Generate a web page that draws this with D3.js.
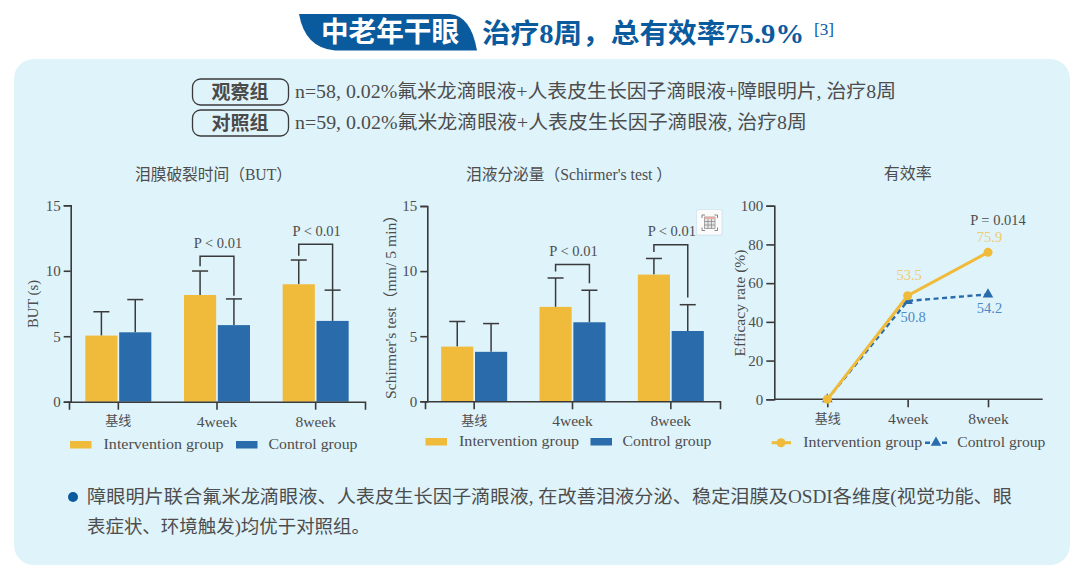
<!DOCTYPE html>
<html>
<head>
<meta charset="utf-8">
<script src="https://cdn.jsdelivr.net/npm/d3@7"></script>
<style>
html, body { margin: 0; padding: 0; background: #fff; }
svg { display: block; }
text { font-family: "Liberation Serif", "Noto Sans CJK SC", serif; fill: #4d4d4d; }
</style>
</head>
<body>
<svg id="chart" width="1080" height="576"></svg>
<script>
const categories = ['基线', '4week', '8week'];
const seriesNames = ['Intervention group', 'Control group'];

const butIntervention = [5.05, 8.15, 8.97];
const butControl = [5.3, 5.85, 6.17];
const butInterventionTop = [6.87, 9.98, 10.82];
const butControlTop = [7.8, 7.85, 8.52];
const butBracketTop = [null, 11.1, 12.03];
const butBracketLeft = [null, 10.35, 11.15];
const butBracketRight = [null, 8.1, 8.5];
const butPLabels = [null, 'P < 0.01', 'P < 0.01'];

const tearIntervention = [4.2, 7.25, 9.73];
const tearControl = [3.8, 6.07, 5.4];
const tearInterventionTop = [6.13, 9.47, 10.97];
const tearControlTop = [5.97, 8.53, 7.42];
const tearBracketTop = [null, 10.5, 12.03];
const tearBracketLeft = [null, 9.97, 11.47];
const tearBracketRight = [null, 9.07, 7.97];
const tearPLabels = [null, 'P < 0.01', 'P < 0.01'];

const rateIntervention = [0, 53.5, 75.9];
const rateControl = [0, 50.8, 54.2];
const rateTicks = [0, 20, 40, 60, 80, 100];
const barTicks = [0, 5, 10, 15];

const YELLOW = '#f0bb3a', BLUE = '#2a6cab', AXIS = '#3a3a3a', NAVY = '#0a5a9e';

const svg = d3.select('#chart');

// the fonts here are narrower than the source ones, so stretch text to the measured width
function fit(sel, len) {
    return sel.attr('textLength', len).attr('lengthAdjust', 'spacingAndGlyphs');
}

// rounded background panel
svg.append('rect').attr('x', 14).attr('y', 59).attr('width', 1056).attr('height', 506)
    .attr('rx', 20).attr('fill', '#dff3fb');

// heading tab: square top left / bottom right, rounded on the other two
svg.append('path')
    .attr('d', 'M299,14 H450 Q471,16 477,50.5 H335 Q305,48 299,14 Z')
    .attr('fill', NAVY);
fit(svg.append('text').attr('x', 321).attr('y', 42)
    .attr('font-size', 28).attr('font-weight', 700).style('fill', '#fff')
    .text('中老年干眼'), 138);
fit(svg.append('text').attr('x', 482).attr('y', 43)
    .attr('font-size', 27).attr('font-weight', 700).style('fill', NAVY)
    .text('治疗8周，总有效率75.9%'), 322);
fit(svg.append('text').attr('x', 814).attr('y', 35)
    .attr('font-size', 17).attr('font-weight', 400).style('fill', NAVY)
    .text('[3]'), 20);

// group descriptions
const groupRows = [
    {badge: '观察组', text: 'n=58, 0.02%氟米龙滴眼液+人表皮生长因子滴眼液+障眼明片, 治疗8周', width: 601, y: 79},
    {badge: '对照组', text: 'n=59, 0.02%氟米龙滴眼液+人表皮生长因子滴眼液, 治疗8周', width: 512, y: 110}
];
for (let row of groupRows) {
    svg.append('rect').attr('x', 192.5).attr('y', row.y).attr('width', 96).attr('height', 26)
        .attr('rx', 8).attr('fill', 'none').attr('stroke', '#3a3a3a').attr('stroke-width', 1.3);
    svg.append('text').attr('x', 240).attr('y', row.y + 20).attr('text-anchor', 'middle')
        .attr('font-size', 19).attr('font-weight', 700).style('fill', '#4a4a4a').text(row.badge);
    fit(svg.append('text').attr('x', 295).attr('y', row.y + 19)
        .attr('font-size', 19).text(row.text), row.width);
}

function yAxisLabel(x, y, text, len) {
    fit(svg.append('text').attr('transform', `translate(${x},${y}) rotate(-90)`)
        .attr('text-anchor', 'middle').attr('font-size', 15).text(text), len);
}

function styleAxis(g, size) {
    g.selectAll('path, line').attr('stroke', AXIS).attr('stroke-width', 1.6);
    g.selectAll('text').attr('font-size', size).style('fill', '#4d4d4d');
}

// category labels: the Chinese one is set smaller than the Latin ones
function styleCategories(g) {
    g.selectAll('text').attr('font-size', d => d === categories[0] ? 13 : 15.5);
}

function drawBarChart(c) {
    const x = d3.scaleBand().domain(categories).range(c.xRange);
    const inner = d3.scaleBand().domain(seriesNames).range([-33, 33]).paddingInner(0.05);
    const y = d3.scaleLinear().domain([0, 15]).range(c.yRange);
    const cx = d => x(d) + x.bandwidth() / 2;
    const rows = [
        {name: seriesNames[0], vals: c.intervention, tops: c.interventionTop, color: YELLOW},
        {name: seriesNames[1], vals: c.control, tops: c.controlTop, color: BLUE}
    ];

    for (let r of rows) {
        const mid = inner(r.name) + inner.bandwidth() / 2;
        // error bars first, bars sit over their lower end
        svg.append('g').selectAll('line').data(categories).enter().append('line')
            .attr('x1', d => cx(d) + mid).attr('x2', d => cx(d) + mid)
            .attr('y1', (d, i) => y(r.vals[i])).attr('y2', (d, i) => y(r.tops[i]))
            .attr('stroke', AXIS).attr('stroke-width', 1.5);
        svg.append('g').selectAll('line').data(categories).enter().append('line')
            .attr('x1', d => cx(d) + mid - 8).attr('x2', d => cx(d) + mid + 8)
            .attr('y1', (d, i) => y(r.tops[i])).attr('y2', (d, i) => y(r.tops[i]))
            .attr('stroke', AXIS).attr('stroke-width', 1.5);
        svg.append('g').selectAll('rect').data(categories).enter().append('rect')
            .attr('x', d => cx(d) + inner(r.name))
            .attr('width', inner.bandwidth())
            .attr('y', (d, i) => y(r.vals[i]))
            .attr('height', (d, i) => y(0) - y(r.vals[i]))
            .attr('fill', r.color);
    }

    // significance brackets
    categories.forEach((d, i) => {
        if (c.bracketTop[i] === null) return;
        const xl = cx(d) + inner(seriesNames[0]) + inner.bandwidth() / 2;
        const xr = cx(d) + inner(seriesNames[1]) + inner.bandwidth() / 2;
        svg.append('path')
            .attr('d', `M${xl},${y(c.bracketLeft[i])} V${y(c.bracketTop[i])} H${xr} V${y(c.bracketRight[i])}`)
            .attr('fill', 'none').attr('stroke', AXIS).attr('stroke-width', 1.5);
        svg.append('text').attr('x', (xl + xr) / 2 + 1).attr('y', y(c.bracketTop[i]) - 8.5)
            .attr('text-anchor', 'middle').attr('font-size', 14.5).text(c.pLabels[i]);
    });

    const gy = svg.append('g').attr('transform', `translate(${c.axisX},0)`)
        .call(d3.axisLeft(y).tickValues(barTicks).tickSize(7).tickPadding(3));
    styleAxis(gy, 15);
    const gx = svg.append('g').attr('transform', `translate(0,${c.yRange[0]})`)
        .call(d3.axisBottom(x).tickSizeOuter(0).tickSize(8).tickPadding(6));
    styleAxis(gx, 15.5);
    styleCategories(gx);

    fit(svg.append('text').attr('x', c.titleX).attr('y', 180)
        .attr('font-size', 16).text(c.title), c.titleLen);
    yAxisLabel(c.labelX, c.labelY, c.yLabel, c.labelLen);

    // legend
    rows.forEach((r, i) => {
        svg.append('rect').attr('x', c.legendX[i]).attr('y', c.legendY - 7)
            .attr('width', 21.5).attr('height', 7.5).attr('fill', r.color);
        fit(svg.append('text').attr('x', c.legendTextX[i]).attr('y', c.legendY + 0.5)
            .attr('font-size', 15).text(r.name), c.legendLen[i]);
    });
}

drawBarChart({
    title: '泪膜破裂时间（BUT）', titleX: 135, titleLen: 157,
    yLabel: 'BUT (s)', labelX: 38, labelY: 304, labelLen: 48,
    xRange: [69, 365], yRange: [401.7, 205.3], axisX: 70.7,
    intervention: butIntervention, control: butControl,
    interventionTop: butInterventionTop, controlTop: butControlTop,
    bracketTop: butBracketTop, bracketLeft: butBracketLeft, bracketRight: butBracketRight,
    pLabels: butPLabels,
    legendX: [70, 236], legendTextX: [103.5, 268.5], legendY: 448, legendLen: [120, 89]
});

drawBarChart({
    title: '泪液分泌量（Schirmer\'s test ）', titleX: 466, titleLen: 206,
    yLabel: 'Schirmer\'s test（mm/ 5 min）', labelX: 396, labelY: 303, labelLen: 192,
    xRange: [425, 720], yRange: [401.3, 206], axisX: 427.3,
    intervention: tearIntervention, control: tearControl,
    interventionTop: tearInterventionTop, controlTop: tearControlTop,
    bracketTop: tearBracketTop, bracketLeft: tearBracketLeft, bracketRight: tearBracketRight,
    pLabels: tearPLabels,
    legendX: [425.5, 590.5], legendTextX: [459, 622.5], legendY: 445, legendLen: [120, 89]
});

// line chart
const xr = d3.scalePoint().domain(categories).range([827.3, 988]);
const yr = d3.scaleLinear().domain([0, 100]).range([399.3, 205.7]);
const line = d3.line().x((d, i) => xr(categories[i])).y(d => yr(d));
svg.append('path').attr('d', line(rateControl)).attr('fill', 'none')
    .attr('stroke', BLUE).attr('stroke-width', 2.4).attr('stroke-dasharray', '5,3.5');
const triangle = d3.symbol().type(d3.symbolTriangle).size(48);
svg.append('g').selectAll('path').data(rateControl).enter().append('path')
    .attr('d', triangle)
    .attr('transform', (d, i) => `translate(${xr(categories[i])},${yr(d)})`)
    .attr('fill', BLUE);

const gyr = svg.append('g').attr('transform', 'translate(774.3,0)')
    .call(d3.axisLeft(yr).tickValues(rateTicks).tickSize(8).tickPadding(3));
styleAxis(gyr, 15);
const gxr = svg.append('g').attr('transform', `translate(0,${yr(0)})`)
    .call(d3.axisBottom(xr).tickSizeOuter(0).tickSize(8).tickPadding(6));
styleAxis(gxr, 15.5);
styleCategories(gxr);
gxr.select('.domain').remove();
svg.append('line').attr('x1', 774.3).attr('x2', 1042.7).attr('y1', yr(0)).attr('y2', yr(0))
    .attr('stroke', AXIS).attr('stroke-width', 1.6);

svg.append('path').attr('d', line(rateIntervention)).attr('fill', 'none')
    .attr('stroke', YELLOW).attr('stroke-width', 3);
svg.append('g').selectAll('circle').data(rateIntervention).enter().append('circle')
    .attr('cx', (d, i) => xr(categories[i])).attr('cy', d => yr(d)).attr('r', 4.5)
    .attr('fill', YELLOW);

// point labels, skip the zero baseline
rateIntervention.forEach((d, i) => {
    if (i === 0) return;
    svg.append('text').attr('x', xr(categories[i]) + 1.5).attr('y', yr(d) - 10 - (i === 1 ? 6 : 0))
        .attr('text-anchor', 'middle').attr('font-size', 14.5).style('fill', '#efcb72')
        .text(d.toFixed(1));
});
rateControl.forEach((d, i) => {
    if (i === 0) return;
    svg.append('text').attr('x', xr(categories[i]) + (i === 1 ? 5.5 : 1.5)).attr('y', yr(d) + 18 + (i === 1 ? 3 : 1))
        .attr('text-anchor', 'middle').attr('font-size', 14.5).style('fill', '#4d8ac4')
        .text(d.toFixed(1));
});
svg.append('text').attr('x', 998).attr('y', 225).attr('text-anchor', 'middle')
    .attr('font-size', 14.5).text('P = 0.014');
svg.append('text').attr('x', 907.7).attr('y', 179).attr('text-anchor', 'middle')
    .attr('font-size', 16).text('有效率');
yAxisLabel(745, 303, 'Efficacy rate (%)', 107);

// line chart legend
svg.append('line').attr('x1', 771.7).attr('x2', 791).attr('y1', 442.7).attr('y2', 442.7)
    .attr('stroke', YELLOW).attr('stroke-width', 3);
svg.append('circle').attr('cx', 781).attr('cy', 442.7).attr('r', 4.5).attr('fill', YELLOW);
fit(svg.append('text').attr('x', 803.3).attr('y', 447).attr('font-size', 15).text(seriesNames[0]), 119);
svg.append('line').attr('x1', 925).attr('x2', 947).attr('y1', 442.7).attr('y2', 442.7)
    .attr('stroke', BLUE).attr('stroke-width', 2.4).attr('stroke-dasharray', '5,3.5');
svg.append('path').attr('d', triangle).attr('transform', 'translate(936,442.7)').attr('fill', BLUE);
fit(svg.append('text').attr('x', 957.3).attr('y', 447).attr('font-size', 15).text(seriesNames[1]), 88);

// little scan button that sits over the middle chart in the source picture
const icon = svg.append('g').attr('transform', 'translate(697,210)');
icon.append('rect').attr('x', -1).attr('y', -1).attr('width', 27).attr('height', 27).attr('rx', 2)
    .attr('fill', '#c9d6dc').attr('opacity', 0.35);
icon.append('rect').attr('width', 24.5).attr('height', 24.5).attr('rx', 1.5).attr('fill', '#fbfbfb');
icon.append('rect').attr('x', 7.5).attr('y', 7).attr('width', 10.5).attr('height', 11.5)
    .attr('fill', '#e4e4e4').attr('stroke', '#888').attr('stroke-width', 0.7);
icon.append('rect').attr('x', 7.5).attr('y', 7).attr('width', 10.5).attr('height', 1.8).attr('fill', '#e9a79f');
icon.append('path').attr('d', 'M5,8 V5 H8 M17.5,5 H20.5 V8 M20.5,17.5 V20.5 H17.5 M8,20.5 H5 V17.5')
    .attr('fill', 'none').attr('stroke', '#777').attr('stroke-width', 0.9);
icon.append('path').attr('d', 'M7.5,11.5 H18 M7.5,15 H18 M11,9 V18.5 M14.5,9 V18.5')
    .attr('fill', 'none').attr('stroke', '#777').attr('stroke-width', 0.6);

// conclusion
svg.append('circle').attr('cx', 73).attr('cy', 497).attr('r', 5).attr('fill', NAVY);
fit(svg.append('text').attr('x', 87).attr('y', 503).attr('font-size', 18.5)
    .text('障眼明片联合氟米龙滴眼液、人表皮生长因子滴眼液, 在改善泪液分泌、稳定泪膜及OSDI各维度(视觉功能、眼'), 925);
fit(svg.append('text').attr('x', 87).attr('y', 533).attr('font-size', 18.5)
    .text('表症状、环境触发)均优于对照组。'), 283);
</script>
</body>
</html>
